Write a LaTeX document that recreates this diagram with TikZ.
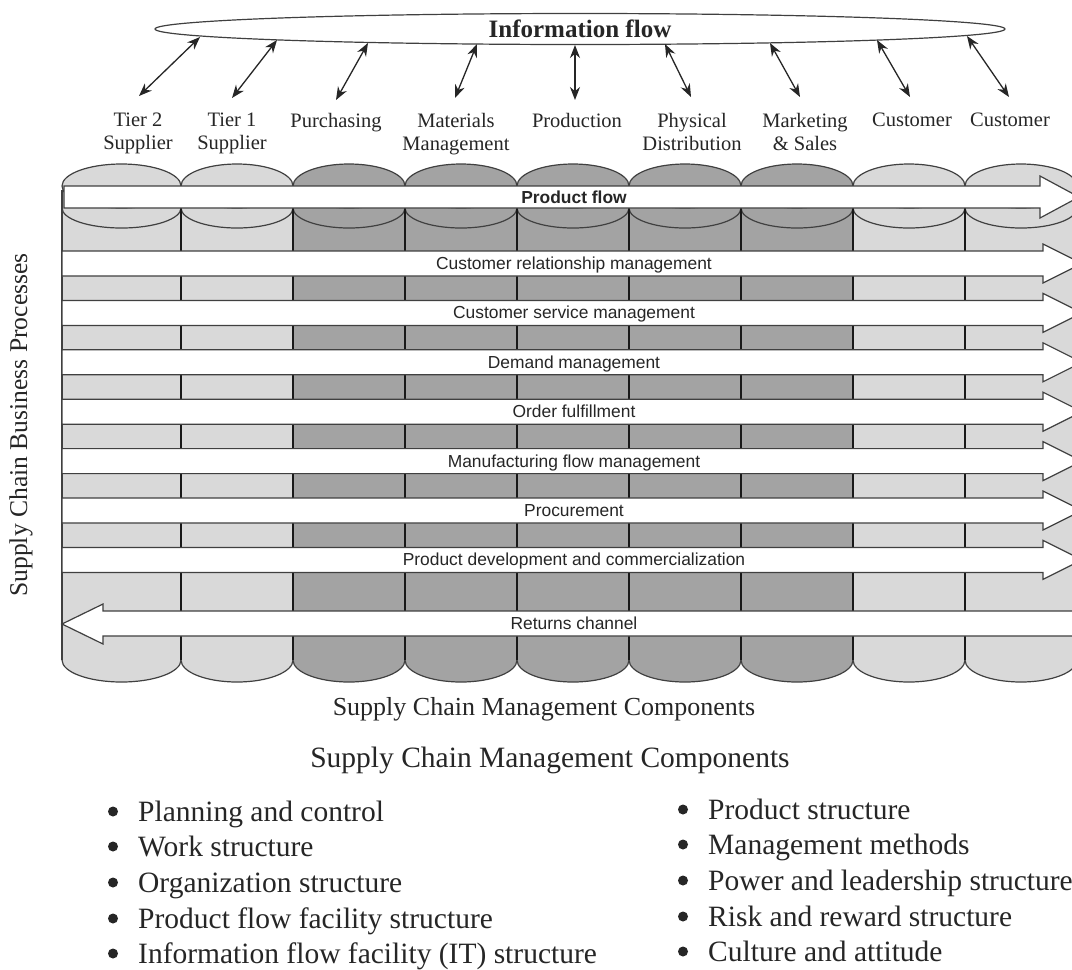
\documentclass[tikz,border=0pt]{standalone}
\usepackage{fontspec}
\setmainfont{Liberation Serif}
\newfontfamily\arialfont{Liberation Sans}
\usetikzlibrary{arrows.meta,shapes.geometric}
\definecolor{lightcol}{gray}{0.85}
\definecolor{darkcol}{gray}{0.64}
\definecolor{inkc}{gray}{0.15}
\definecolor{edgec}{gray}{0.25}
\begin{document}
\begin{tikzpicture}[x=1pt,y=-1pt,
  capline/.style={draw=edgec,line width=1.2pt},
  colline/.style={draw=black!90,line width=2.4pt},
  barshape/.style={fill=white,draw=edgec,line width=1.2pt,line join=miter},
  barlabel/.style={font=\arialfont\fontsize{17.4}{20}\selectfont,text=inkc,anchor=base,inner sep=0pt},
  toplab/.style={font=\fontsize{20.5}{23}\selectfont,text=inkc,align=center,anchor=north,inner sep=0pt},
  infoarr/.style={{Stealth[length=13pt,width=10pt]}-{Stealth[length=13pt,width=10pt]},line width=1.3pt,draw=black!85},
  bul/.style={font=\fontsize{29.5}{34}\selectfont,text=inkc,anchor=base west,inner sep=0pt},
  bdot/.style={circle,fill=inkc,inner sep=0pt,minimum size=10pt},
  title/.style={text=inkc,anchor=base,inner sep=0pt}]
\clip (0,0) rectangle (1072,970);
\fill[white] (0,0) rectangle (1072,970);

% ---- cylinders (columns)
\foreach \xl/\xr/\c in {62/181/lightcol,181/293/lightcol,293/405/darkcol,405/517/darkcol,517/629/darkcol,629/741/darkcol,741/853/darkcol,853/965/lightcol,965/1077/lightcol}{
  \pgfmathsetmacro\cx{(\xl+\xr)/2}
  \pgfmathsetmacro\rx{(\xr-\xl)/2}
  \fill[\c] (\xl,186) rectangle (\xr,660);
  \draw[capline,fill=\c] (\cx,186) ellipse [x radius=\rx pt, y radius=22pt];
  \begin{scope}
    \clip (\xl-2,208) rectangle (\xr+2,240);
    \draw[capline] (\cx,208) ellipse [x radius=\rx pt, y radius=20pt];
  \end{scope}
  \begin{scope}
    \clip (\xl-2,660) rectangle (\xr+2,700);
    \draw[capline,fill=\c] (\cx,660) ellipse [x radius=\rx pt, y radius=22pt];
  \end{scope}
}
\foreach \x in {181,293,405,517,629,741,853,965}{
  \draw[colline] (\x,208) -- (\x,660);
}
\draw[capline] (62,190) -- (62,660);

% ---- product flow
\draw[barshape] (64,186) -- (1040,186) -- (1040,176) -- (1079,197) -- (1040,218) -- (1040,208) -- (64,208) -- cycle;
\node[barlabel,font=\arialfont\bfseries\fontsize{17.4}{20}\selectfont] (pflow) at (574,203) {Product flow};

% ---- business process bars
\foreach \yc/\txt/\nm in {263.5/Customer relationship management/crm,
  312.9/Customer service management/csm,
  362.3/Demand management/dm,
  411.7/Order fulfillment/of,
  461.1/Manufacturing flow management/mfm,
  510.5/Procurement/proc,
  559.9/Product development and commercialization/pdc}{
  \draw[barshape] (62,\yc-12.5) -- (1043,\yc-12.5) -- (1043,\yc-19.5) -- (1082,\yc) -- (1043,\yc+19.5) -- (1043,\yc+12.5) -- (62,\yc+12.5) -- cycle;
  \node[barlabel] (\nm) at (574,\yc+6) {\txt};
}

% ---- returns channel
\draw[barshape] (1090,611) -- (103,611) -- (103,604) -- (62,624) -- (103,644) -- (103,636) -- (1090,636) -- cycle;
\node[barlabel] (ret) at (574,629.5) {Returns channel};

% ---- information flow
\node[draw=edgec,line width=1.2pt,ellipse,minimum width=850pt,minimum height=31pt,inner sep=0pt,
      font=\bfseries\fontsize{25}{28}\selectfont,text=inkc] (info) at (580,29) {Information flow};

\node[toplab] (t2s) at (138,113) {Tier 2\\Supplier};
\node[toplab] (t1s) at (232,113) {Tier 1\\Supplier};
\node[toplab] (pur) at (336,113) {Purchasing};
\node[toplab] (mat) at (456,113) {Materials\\Management};
\node[toplab] (prd) at (577,113) {Production};
\node[toplab] (phy) at (692,113) {Physical\\Distribution};
\node[toplab] (mks) at (805,113) {Marketing\\\& Sales};
\node[toplab] (cu1) at (912,113) {Customer};
\node[toplab] (cu2) at (1010,113) {Customer};

\coordinate (a1t) at (200,37);  \coordinate (a1b) at (139,96);
\coordinate (a2t) at (277,40);  \coordinate (a2b) at (232,98);
\coordinate (a3t) at (368,43);  \coordinate (a3b) at (336,100);
\coordinate (a4t) at (477,44);  \coordinate (a4b) at (455,98);
\coordinate (a5t) at (575,45);  \coordinate (a5b) at (575,100);
\coordinate (a6t) at (665,44);  \coordinate (a6b) at (691,97);
\coordinate (a7t) at (770,43);  \coordinate (a7b) at (800,97);
\coordinate (a8t) at (877,40);  \coordinate (a8b) at (910,97);
\coordinate (a9t) at (967,36);  \coordinate (a9b) at (1009,97);
\foreach \i in {1,...,9}{
  \draw[infoarr] (a\i t) -- (a\i b);
}

% ---- axis titles
\node[title,font=\fontsize{25.6}{30}\selectfont,rotate=90,anchor=center] (scbp) at (21,425) {Supply Chain Business Processes};
\node[title,font=\fontsize{26}{30}\selectfont] (scmc1) at (544,715) {Supply Chain Management Components};
\node[title,font=\fontsize{29.5}{34}\selectfont] (scmc2) at (550,767) {Supply Chain Management Components};

% ---- bullet lists
\foreach \yb/\txt/\nm in {821/Planning and control/l1, 856/Work structure/l2,
  892/Organization structure/l3, 928/Product flow facility structure/l4,
  963/Information flow facility (IT) structure/l5}{
  \node[bdot] (\nm d) at (113,\yb-9.5) {};
  \node[bul] (\nm) at (138,\yb) {\txt};
}
\foreach \yb/\txt/\nm in {819/Product structure/r1, 854/Management methods/r2,
  890/Power and leadership structure/r3, 926/Risk and reward structure/r4,
  961/Culture and attitude/r5}{
  \node[bdot] (\nm d) at (683,\yb-9.5) {};
  \node[bul] (\nm) at (708,\yb) {\txt};
}
\end{tikzpicture}
\end{document}
